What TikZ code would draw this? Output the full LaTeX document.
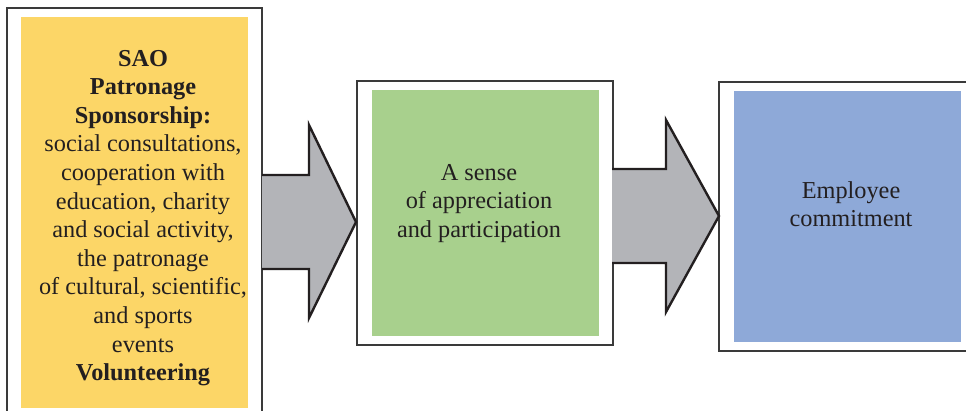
\documentclass[tikz,border=0pt]{standalone}
\usepackage{fontspec}
\setmainfont{Liberation Serif}
\newfontfamily\figfont{Liberation Serif}
\definecolor{txt}{HTML}{231F20}
\definecolor{yel}{HTML}{FCD667}
\definecolor{grn}{HTML}{A8D08D}
\definecolor{blu}{HTML}{8EA9D8}
\definecolor{arr}{HTML}{B3B4B8}
\definecolor{frame}{HTML}{3A3A3A}
\begin{document}
\begin{tikzpicture}[x=1pt,y=-1pt,
  outerbox/.style={draw=frame,line width=1.3pt,fill=white,inner sep=0pt},
  innerbox/.style={draw=none,inner sep=0pt},
  label/.style={text=txt,align=center,inner sep=0pt,font=\figfont\fontsize{24.3}{28.6}\selectfont},
  blockarrow/.style={draw=txt,line width=2.4pt,fill=arr,line join=miter}]
\useasboundingbox (0,0) rectangle (966,411);
\clip (0,0) rectangle (966,411);
% left box
\node[outerbox,minimum width=255pt,minimum height=422pt] (o1) at (134.5,219) {};
\node[innerbox,fill=yel,minimum width=227pt,minimum height=391pt] (i1) at (134.5,212.5) {};
\node[label] (t1) at (143,218) {\textbf{SAO}\\\textbf{Patronage}\\\textbf{Sponsorship:}\\social consultations,\\cooperation with\\education, charity\\and social activity,\\the patronage\\of cultural, scientific,\\and sports\\events\\\textbf{Volunteering}};
% middle box
\node[outerbox,minimum width=256pt,minimum height=264pt] (o2) at (485,213) {};
\node[innerbox,fill=grn,minimum width=227pt,minimum height=246pt] (i2) at (485.5,213) {};
\node[label] (t2) at (479,203.5) {A sense\\of appreciation\\and participation};
% right box
\node[outerbox,minimum width=261pt,minimum height=269pt] (o3) at (849.5,216.5) {};
\node[innerbox,fill=blu,minimum width=227pt,minimum height=251pt] (i3) at (847.5,216.5) {};
\node[label] (t3) at (851,204) {Employee\\commitment};
% arrows
\draw[blockarrow] (262,175) -- (309,175) -- (309,125) -- (356,222) -- (309,318) -- (309,269) -- (262,269);
\draw[blockarrow] (612,169) -- (666,169) -- (666,120) -- (719,216) -- (666,312) -- (666,263) -- (612,263);
\end{tikzpicture}
\end{document}
